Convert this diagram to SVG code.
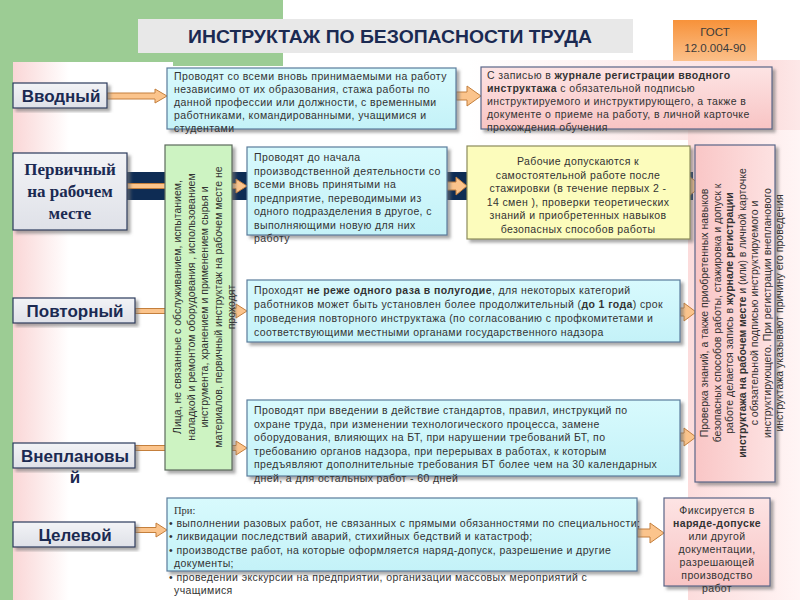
<svg xmlns="http://www.w3.org/2000/svg" width="800" height="600" viewBox="0 0 800 600">
<defs>
<style>
.t{font-family:"Liberation Sans",Arial,sans-serif;font-size:10.5px;fill:#333}
.h{letter-spacing:0.4px}
.c{text-anchor:middle}
.b{font-weight:bold}
.lbl{font-family:"Liberation Sans",Arial,sans-serif;font-weight:bold;font-size:17px;fill:#1b2a52;text-anchor:middle}
.lbls{font-family:"Liberation Serif","Times New Roman",serif;font-weight:bold;font-size:17px;fill:#1b2a52;text-anchor:middle}
.lb{fill:url(#gLabel);stroke:#2a3a5c;stroke-width:1.2;filter:url(#sh)}
.cy{fill:url(#gCyan);stroke:#5a7c9c;stroke-width:1.2;filter:url(#sh)}
.pk{fill:url(#gPink);stroke:#5a6688;stroke-width:1.2;filter:url(#sh)}
.ye{fill:#fcfcbc;stroke:#8c8c5c;stroke-width:1.2;filter:url(#sh)}
.gr{fill:#cdf3c2;stroke:#5c6a5c;stroke-width:1.2;filter:url(#sh)}
.ar{fill:#fbc48c;stroke:#c47f3c;stroke-width:1}
</style>
<filter id="sh" x="-10%" y="-10%" width="130%" height="130%">
<feDropShadow dx="3" dy="3" stdDeviation="1.5" flood-color="#707070" flood-opacity="0.6"/>
</filter>
<linearGradient id="gLabel" x1="0" y1="0" x2="0" y2="1"><stop offset="0" stop-color="#f2f3f6"/><stop offset="1" stop-color="#dfe1e8"/></linearGradient>
<linearGradient id="gCyan" x1="0" y1="0" x2="0" y2="1"><stop offset="0" stop-color="#d8fafd"/><stop offset="1" stop-color="#c4f2f8"/></linearGradient>
<linearGradient id="gPink" x1="0" y1="0" x2="0" y2="1"><stop offset="0" stop-color="#fde4e4"/><stop offset="1" stop-color="#f8c4c4"/></linearGradient>
<linearGradient id="gPinkV" x1="0" y1="0" x2="1" y2="0"><stop offset="0" stop-color="#f9c6c6"/><stop offset="1" stop-color="#fde2e2"/></linearGradient>
<linearGradient id="gBandL" x1="0" y1="0" x2="1" y2="0"><stop offset="0" stop-color="#fad6d6"/><stop offset="0.35" stop-color="#ffffff"/></linearGradient>
<linearGradient id="gBandR" x1="0" y1="0" x2="1" y2="0"><stop offset="0" stop-color="#fcdcdc"/><stop offset="1" stop-color="#fff5f5"/></linearGradient>
<linearGradient id="gBandT" x1="0" y1="0" x2="1" y2="0"><stop offset="0" stop-color="#ffffff"/><stop offset="0.9" stop-color="#fcdede"/><stop offset="1" stop-color="#fde8e8"/></linearGradient>
<linearGradient id="gOrange" x1="0" y1="0" x2="0" y2="1"><stop offset="0" stop-color="#f7923a"/><stop offset="1" stop-color="#fbc08a"/></linearGradient>
</defs>

<!-- background -->
<rect x="0" y="0" width="800" height="600" fill="#ffffff"/>
<rect x="0" y="0" width="283" height="66" fill="#9ccc94"/>
<rect x="0" y="0" width="13" height="600" fill="#9ccc94"/>
<rect x="13" y="62" width="160" height="538" fill="url(#gBandL)"/>
<rect x="470" y="60" width="330" height="80" fill="url(#gBandT)"/>
<rect x="688" y="130" width="112" height="470" fill="url(#gBandR)"/>
<rect x="100" y="172" width="593" height="28" fill="#0e2c54"/>

<!-- title -->
<g id="title">
<rect x="138" y="19" width="495" height="34" fill="#e8e8e8"/>
<text x="390" y="43" font-family="'Liberation Sans',Arial,sans-serif" font-weight="bold" font-size="18" fill="#1b2a52" text-anchor="middle" textLength="404" lengthAdjust="spacingAndGlyphs">ИНСТРУКТАЖ ПО БЕЗОПАСНОСТИ ТРУДА</text>
</g>
<g id="gost">
<rect x="673" y="20" width="84" height="41" fill="url(#gOrange)"/>
<text x="715" y="36" class="t c" style="font-size:11.5px;fill:#3a3a3a">ГОСТ</text>
<text x="715" y="52" class="t c" style="font-size:11.5px;fill:#3a3a3a">12.0.004-90</text>
</g>

<!-- connectors -->
<g id="connectors">
<path class="ar" d="M107,93 H155 V89 L167,96 L155,103 V99 H107 Z"/>
<path class="ar" d="M456,92 H467 V86 L481,96 L467,106 V100 H456 Z"/>
<path class="ar" d="M127,183.5 H236 V179 L247,186 L236,193 V188.5 H127 Z"/>
<path class="ar" d="M447,182 H456 V177 L467,186 L456,195 V190 H447 Z"/>
<path class="ar" d="M690,182 V177 L702,186 L690,195 V190 Z"/>
<path class="ar" d="M135,308.5 H236 V304 L247,311 L236,318 V313.5 H135 Z"/>
<path class="ar" d="M680,308 H684 V303 L696,312 L684,321 V316 H680 Z"/>
<path class="ar" d="M135,445.5 H236 V441 L247,448 L236,455 V450.5 H135 Z"/>
<path class="ar" d="M680,433 H684 V428 L696,437 L684,446 V441 H680 Z"/>
<path class="ar" d="M135,527.5 H156 V523 L167,530 L156,537 V532.5 H135 Z"/>
<path class="ar" d="M637,529 H650 V523 L664,533 L650,543 V537 H637 Z"/>
</g>

<!-- labels -->
<g id="lbl-vvodny">
<rect class="lb" x="13" y="83" width="94" height="25"/>
<text class="lbl" x="61" y="102">Вводный</text>
</g>
<g id="lbl-pervichny">
<rect class="lb" x="13" y="153" width="114" height="77"/>
<text class="lbls" x="70" y="175">Первичный</text>
<text class="lbls" x="70" y="197">на рабочем</text>
<text class="lbls" x="70" y="219">месте</text>
</g>
<g id="lbl-povtorny">
<rect class="lb" x="13" y="298" width="122" height="25"/>
<text class="lbl" x="75" y="317">Повторный</text>
</g>
<g id="lbl-vneplanovy">
<rect class="lb" x="13" y="443" width="122" height="25"/>
<text class="lbl" x="75" y="462">Внеплановы</text>
<text class="lbl" x="75" y="483">й</text>
</g>
<g id="lbl-celevoy">
<rect class="lb" x="13" y="522" width="122" height="25"/>
<text class="lbl" x="75" y="541">Целевой</text>
</g>

<!-- green vertical -->
<g id="green-note">
<rect class="gr" x="165" y="145" width="67" height="325"/>
<g class="t c">
<text transform="translate(181,307) rotate(-90)">Лица, не связанные с обслуживанием, испытанием,</text>
<text transform="translate(194.5,307) rotate(-90)">наладкой и ремонтом оборудования , использованием</text>
<text transform="translate(208,307) rotate(-90)">инструмента, хранением и применением сырья и</text>
<text transform="translate(221.5,307) rotate(-90)">материалов, первичный инструктаж на рабочем месте не</text>
<text transform="translate(235,307) rotate(-90)">проходят</text>
</g>
</g>

<!-- row 1 -->
<g id="vvodny-desc">
<rect class="cy" x="167" y="68" width="289" height="61"/>
<g class="t h">
<text x="174" y="80">Проводят со всеми вновь принимаемыми на работу</text>
<text x="174" y="93">независимо от их образования, стажа работы по</text>
<text x="174" y="106">данной профессии или должности, с временными</text>
<text x="174" y="119">работниками, командированными, учащимися и</text>
<text x="174" y="132">студентами</text>
</g>
</g>
<g id="vvodny-reg">
<rect class="pk" x="481" y="67" width="291" height="62"/>
<g class="t h">
<text x="487" y="79">С записью в <tspan class="b">журнале регистрации вводного</tspan></text>
<text x="487" y="92"><tspan class="b">инструктажа</tspan> с обязательной подписью</text>
<text x="487" y="105">инструктируемого и инструктирующего, а также в</text>
<text x="487" y="118">документе о приеме на работу, в личной карточке</text>
<text x="487" y="131">прохождения обучения</text>
</g>
</g>

<!-- row 2 -->
<g id="pervichny-desc">
<rect class="cy" x="247" y="147" width="200" height="88"/>
<g class="t h">
<text x="254" y="161">Проводят до начала</text>
<text x="254" y="174.5">производственной деятельности со</text>
<text x="254" y="188">всеми вновь принятыми на</text>
<text x="254" y="201.5">предприятие, переводимыми из</text>
<text x="254" y="215">одного подразделения в другое, с</text>
<text x="254" y="228.5">выполняющими новую для  них</text>
<text x="254" y="242">работу</text>
</g>
</g>
<g id="pervichny-admit">
<rect class="ye" x="467" y="146" width="223" height="93"/>
<g class="t c h">
<text x="578" y="165">Рабочие допускаются к</text>
<text x="578" y="178.5">самостоятельной работе после</text>
<text x="578" y="192">стажировки (в течение первых 2 -</text>
<text x="578" y="205.5">14 смен ), проверки теоретических</text>
<text x="578" y="219">знаний и приобретенных навыков</text>
<text x="578" y="232.5">безопасных способов работы</text>
</g>
</g>
<g id="workplace-reg">
<rect class="pk" x="695" y="145" width="80" height="337" style="fill:url(#gPinkV)"/>
<g class="t c">
<text transform="translate(708,313) rotate(-90)">Проверка знаний, а также приобретенных навыков</text>
<text transform="translate(720.5,313) rotate(-90)">безопасных способов работы, стажировка и допуск к</text>
<text transform="translate(733,313) rotate(-90)">работе делается запись в <tspan class="b">журнале регистрации</tspan></text>
<text transform="translate(745.5,313) rotate(-90)"><tspan class="b">инструктажа на рабочем месте</tspan> и (или) в личной карточке</text>
<text transform="translate(758,313) rotate(-90)">с обязательной подписью инструктируемого и</text>
<text transform="translate(770.5,313) rotate(-90)">инструктирующего. При регистрации внепланового</text>
<text transform="translate(783,313) rotate(-90)">инструктажа указывают причину его проведения</text>
</g>
</g>

<!-- row 3 -->
<g id="povtorny-desc">
<rect class="cy" x="247" y="280" width="433" height="62"/>
<g class="t h">
<text x="254" y="294">Проходят <tspan class="b">не реже одного раза в полугодие</tspan>, для некоторых категорий</text>
<text x="254" y="308">работников может быть установлен более продолжительный (<tspan class="b">до 1 года</tspan>) срок</text>
<text x="254" y="322">проведения повторного инструктажа (по согласованию с профкомитетами и</text>
<text x="254" y="336">соответствующими местными органами государственного надзора</text>
</g>
</g>

<!-- row 4 -->
<g id="vneplanovy-desc">
<rect class="cy" x="247" y="400" width="433" height="76"/>
<g class="t h">
<text x="254" y="414">Проводят при введении в действие стандартов, правил, инструкций по</text>
<text x="254" y="427.5">охране труда, при изменении технологического процесса, замене</text>
<text x="254" y="441">оборудования, влияющих на БТ, при нарушении требований БТ, по</text>
<text x="254" y="454.5">требованию органов надзора, при перерывах в работах, к которым</text>
<text x="254" y="468">предъявляют дополнительные требования БТ более чем на 30 календарных</text>
<text x="254" y="481.5">дней, а для остальных работ - 60 дней</text>
</g>
</g>

<!-- row 5 -->
<g id="celevoy-desc">
<rect class="cy" x="167" y="498" width="470" height="73"/>
<g class="t h">
<text x="174" y="514" style="font-family:'Liberation Serif','Times New Roman',serif;letter-spacing:0">При:</text>
<text x="169" y="527">• выполнении разовых работ, не связанных с прямыми обязанностями по специальности;</text>
<text x="169" y="540">• ликвидации последствий аварий, стихийных бедствий и катастроф;</text>
<text x="169" y="553.5">• производстве работ, на которые оформляется наряд-допуск, разрешение и другие</text>
<text x="174" y="567">документы;</text>
<text x="169" y="580.5">• проведении экскурсии на предприятии, организации массовых мероприятий с</text>
<text x="174" y="594">учащимися</text>
</g>
</g>
<g id="celevoy-reg">
<rect class="pk" x="664" y="498" width="106" height="88"/>
<g class="t c h">
<text x="717" y="514">Фиксируется   в</text>
<text x="717" y="527" class="b">наряде-допуске</text>
<text x="717" y="540">или другой</text>
<text x="717" y="553">документации,</text>
<text x="717" y="566">разрешающей</text>
<text x="717" y="579">производство</text>
<text x="717" y="592">работ</text>
</g>
</g>
</svg>
